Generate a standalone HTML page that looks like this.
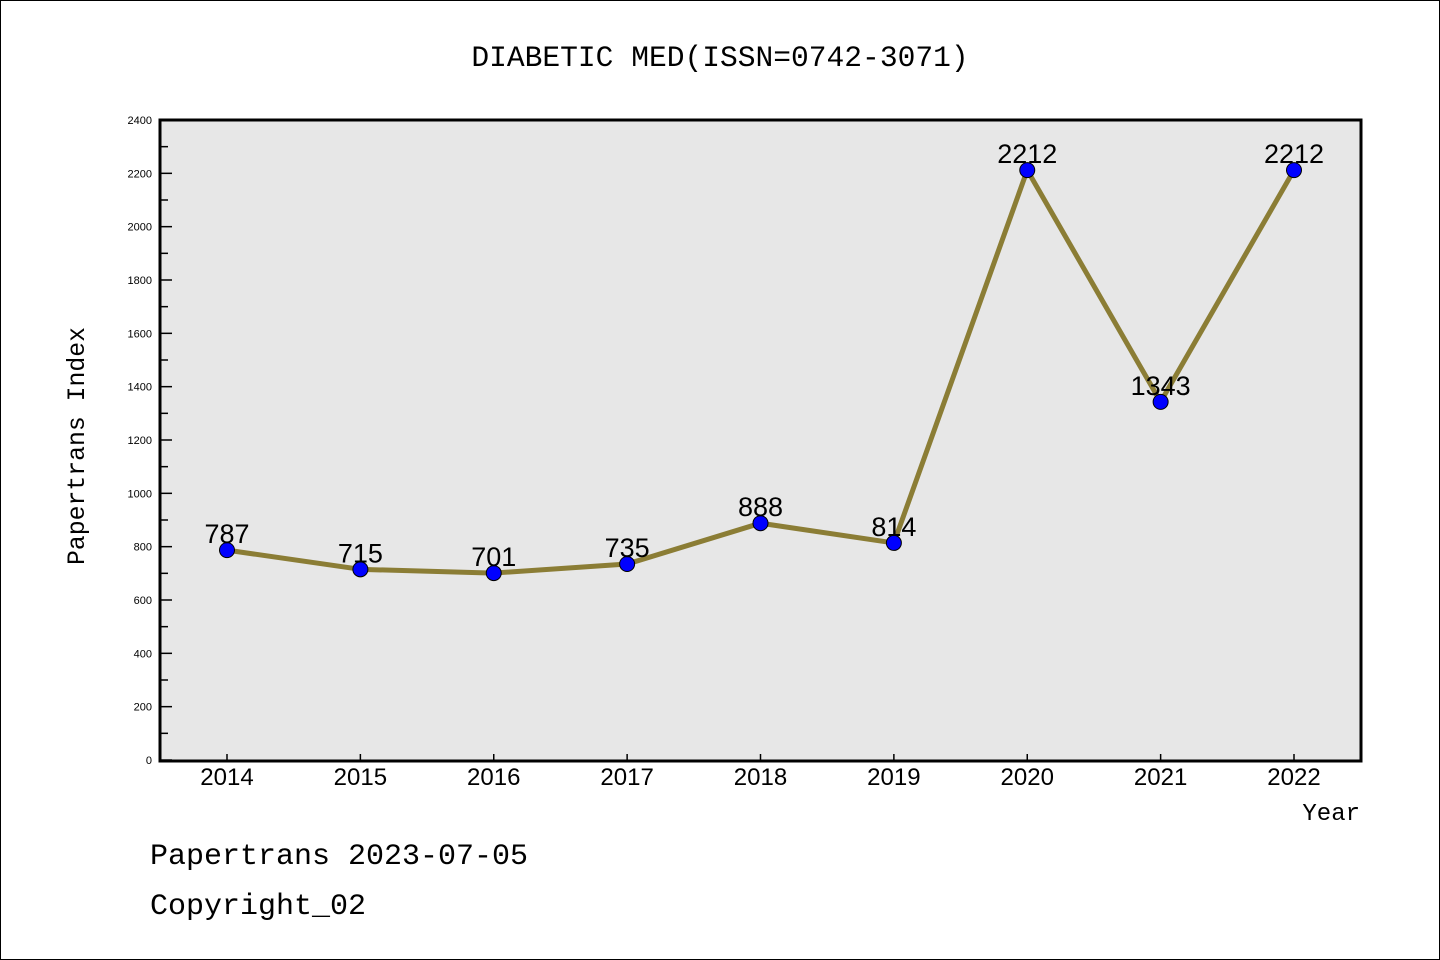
<!DOCTYPE html>
<html><head><meta charset="utf-8"><style>
html,body{margin:0;padding:0;background:#fff;}
svg{display:block;}
text{font-family:"Liberation Mono",monospace;fill:#000;}
text.sans{font-family:"Liberation Sans",sans-serif;}
</style></head><body>
<svg id="chart" width="1440" height="960" xmlns="http://www.w3.org/2000/svg">
<rect x="0.5" y="0.5" width="1439" height="959" fill="#fff" stroke="#000" stroke-width="1"/>
<text x="720" y="66" font-size="29.6" text-anchor="middle">DIABETIC MED(ISSN=0742-3071)</text>
<rect x="160" y="120" width="1201" height="641" fill="#e7e7e7"/>
<g id="axes"></g>
<g id="series"></g>
<rect x="160" y="120" width="1201" height="641" fill="none" stroke="#000" stroke-width="3"/>
<text x="84" y="446" font-size="24.8" text-anchor="middle" transform="rotate(-90 84 446)">Papertrans Index</text>
<text x="1360" y="820" font-size="24" text-anchor="end">Year</text>
<text x="150" y="864" font-size="30">Papertrans 2023-07-05</text>
<text x="150" y="914" font-size="30">Copyright_02</text>
</svg>
<script>
const years = ["2014","2015","2016","2017","2018","2019","2020","2021","2022"];
const values = [787,715,701,735,888,814,2212,1343,2212];
const yTicks = [0,200,400,600,800,1000,1200,1400,1600,1800,2000,2200,2400];
const NS="http://www.w3.org/2000/svg";
const x0=160,x1=1361,y0=760,y1=120,yMax=2400;
function xs(i){return 227+i*(1294-227)/(years.length-1);}
function ys(v){return y0-(v/yMax)*(y0-y1);}
function mk(tag,attrs,parent){const e=document.createElementNS(NS,tag);for(const k in attrs)e.setAttribute(k,attrs[k]);parent.appendChild(e);return e;}
const ax=document.getElementById('axes'), se=document.getElementById('series');
yTicks.forEach((t,i)=>{
  const y=ys(t);
  const l=mk('line',{x1:x0,x2:x0+12,y1:y,y2:y,stroke:'#000','stroke-width':1.5},ax);
  
  
  const tx=mk('text',{x:152,y:y+4,'font-size':11,'text-anchor':'end','class':'sans'},ax);
  tx.textContent=t;
  
  
  if(i<yTicks.length-1){
    const ym=ys(t+100);
    const m=mk('line',{x1:x0,x2:x0+8,y1:ym,y2:ym,stroke:'#000','stroke-width':1.5},ax);
    
    
  }
});
years.forEach((yr,i)=>{
  const x=xs(i);
  const l=mk('line',{x1:x,x2:x,y1:y0,y2:y0-6,stroke:'#000','stroke-width':1.5},ax);
  
  
  const tx=mk('text',{x:x,y:785,'font-size':24,'text-anchor':'middle','class':'sans'},ax);
  tx.textContent=yr;
  
  
});
const pts=values.map((v,i)=>xs(i)+','+ys(v)).join(' ');
const pl=mk('polyline',{points:pts,fill:'none',stroke:'#8b7d35','stroke-width':5,'stroke-linejoin':'round'},se);


values.forEach((v,i)=>{
  const c=mk('circle',{cx:xs(i),cy:ys(v),r:7.5,fill:'#0000ff',stroke:'#000','stroke-width':1},se);
  
  
  const t=mk('text',{x:xs(i),y:ys(v)-7,'font-size':27,'text-anchor':'middle','class':'sans'},se);
  t.textContent=v;
  
  
});
</script>
</body></html>
